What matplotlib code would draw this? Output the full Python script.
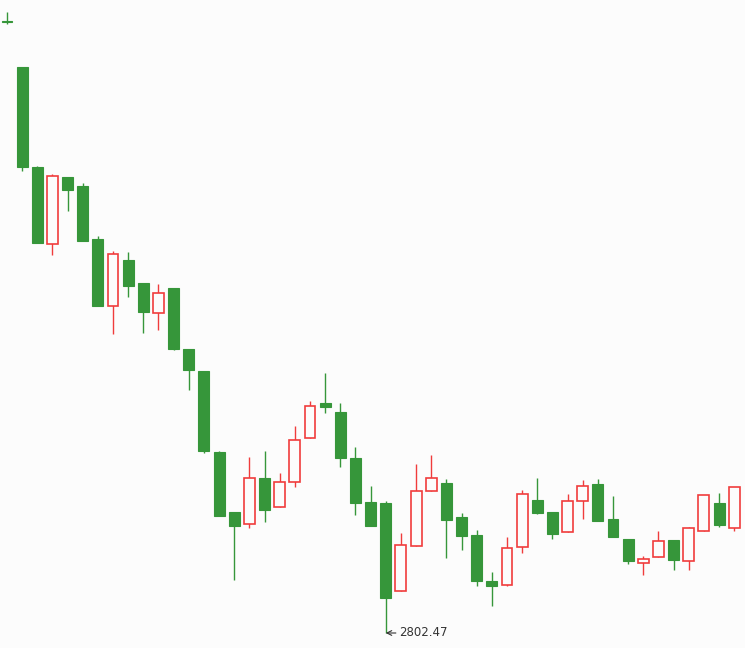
import numpy as np
import matplotlib.pyplot as plt

# daily OHLC, oldest first (first candle is cut off at the left edge)
opens = [3414.5, 3368.5, 3268.5, 3191.5, 3258.5, 3249.5, 3196.5, 3129.5, 3175.5, 3152.5,
         3122.5, 3147.5, 3086.5, 3064.5, 2983.5, 2923.5, 2911.5, 2957.5, 2928.5, 2953.5,
         2997.5, 3032.5, 3023.5, 2977.5, 2933.5, 2932.5, 2844.5, 2889.5, 2944.5, 2952.5,
         2918.5, 2900.5, 2854.5, 2850.5, 2888.5, 2935.5, 2923.5, 2903.5, 2934.5, 2951.5,
         2916.5, 2896.5, 2872.5, 2878.5, 2895.5, 2874.5, 2904.5, 2932.5, 2907.5]
highs = [3423.5, 3368.5, 3269.5, 3261.5, 3258.5, 3252.5, 3199.5, 3184.5, 3183.5, 3152.5,
         3151.5, 3147.5, 3086.5, 3064.5, 2984.5, 2923.5, 2978.5, 2984.5, 2962.5, 3009.5,
         3034.5, 3062.5, 3032.5, 2988.5, 2949.5, 2934.5, 2902.5, 2971.5, 2980.5, 2956.5,
         2922.5, 2905.5, 2863.5, 2898.5, 2945.5, 2957.5, 2923.5, 2941.5, 2955.5, 2956.5,
         2939.5, 2896.5, 2879.5, 2904.5, 2895.5, 2908.5, 2940.5, 2942.5, 2948.5]
lows = [3411.5, 3264.5, 3192.5, 3180.5, 3224.5, 3194.5, 3129.5, 3101.5, 3138.5, 3102.5,
        3105.5, 3085.5, 3045.5, 2982.5, 2919.5, 2855.5, 2907.5, 2913.5, 2928.5, 2948.5,
        2997.5, 3022.5, 2968.5, 2920.5, 2909.5, 2802.47, 2844.5, 2889.5, 2944.5, 2877.5,
        2885.5, 2849.5, 2829.5, 2849.5, 2882.5, 2921.5, 2896.5, 2903.5, 2916.5, 2914.5,
        2898.5, 2871.5, 2860.5, 2878.5, 2865.5, 2865.5, 2904.5, 2908.5, 2904.5]
closes = [3413.5, 3268.5, 3192.5, 3259.5, 3245.5, 3194.5, 3129.5, 3181.5, 3149.5, 3123.5,
          3142.5, 3086.5, 3065.5, 2984.5, 2919.5, 2909.5, 2957.5, 2925.5, 2953.5, 2995.5,
          3029.5, 3028.5, 2977.5, 2932.5, 2909.5, 2837.5, 2890.5, 2944.5, 2957.5, 2915.5,
          2899.5, 2854.5, 2849.5, 2887.5, 2941.5, 2922.5, 2901.5, 2934.5, 2949.5, 2914.5,
          2898.5, 2874.5, 2876.5, 2894.5, 2875.5, 2907.5, 2940.5, 2910.5, 2948.5]

opens = np.array(opens)
closes = np.array(closes)
highs = np.array(highs)
lows = np.array(lows)
x = np.arange(len(opens))

bg = '#fcfcfc'
up_col = '#f03c3c'
down_col = '#36963a'

fig = plt.figure(figsize=(7.45, 6.48), dpi=100, facecolor=bg)
ax = fig.add_axes([0, 0, 1, 1])
ax.set_facecolor(bg)

up = closes >= opens
colors = np.where(up, up_col, down_col)

# wicks
ax.vlines(x, lows, highs, colors=colors, linewidth=1.0, zorder=1)

# bodies: down days filled green, up days hollow red
body_w = 0.72
bottoms = np.minimum(opens, closes)
heights = np.maximum(np.abs(closes - opens), 0.8)
ax.bar(x[~up], heights[~up], bottom=bottoms[~up], width=body_w,
       color=down_col, edgecolor=down_col, linewidth=0.8, zorder=2)
ax.bar(x[up], heights[up], bottom=bottoms[up], width=body_w,
       color=bg, edgecolor=up_col, linewidth=1.2, zorder=2)

# mark the lowest low
i_min = int(np.argmin(lows))
ax.annotate(f'{lows[i_min]:.2f}', xy=(x[i_min], lows[i_min]),
            xytext=(x[i_min] + 0.85, lows[i_min]),
            ha='left', va='center', fontsize=8.5, color='#333333',
            arrowprops=dict(arrowstyle='->', color='#333333', lw=0.8,
                            shrinkA=0, shrinkB=0))

ax.set_xlim(-0.46, 48.71)
ax.set_ylim(2787.47, 3435.47)
ax.axis('off')

fig.savefig('out.png', dpi=100, facecolor=bg)
